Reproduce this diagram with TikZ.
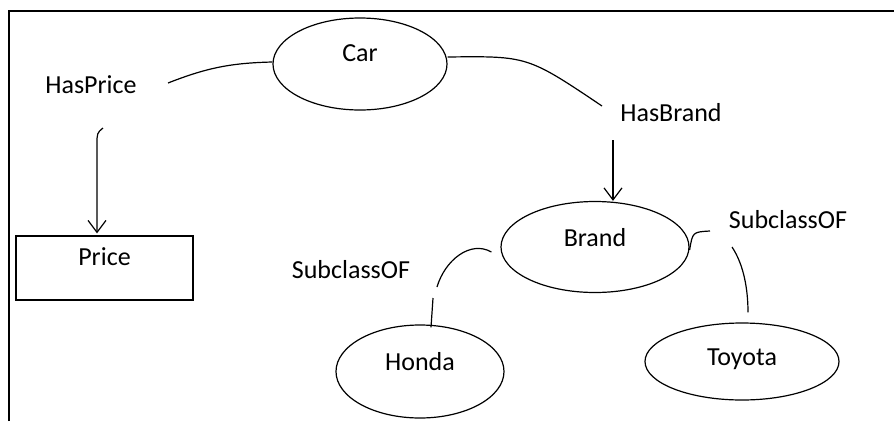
\documentclass[tikz,border=0pt]{standalone}
\usepackage{fontspec}
\setmainfont{Carlito}
\usetikzlibrary{shapes.geometric,arrows.meta,calc}

\begin{document}
\begin{tikzpicture}[x=1pt,y=-1pt,line width=1.2pt,
        every node/.style={font=\fontsize{26}{30}\selectfont},
        cls/.style={ellipse,draw},
        arr/.style={-{Straight Barb[length=12pt,width=18pt]}}]
        \useasboundingbox (0,0) rectangle (894,421);
        \draw[line width=2pt] (9,421) -- (9,11) -- (894,11);
        % classes
        \node[cls,minimum width=174pt,minimum height=92pt,label={[yshift=11pt]center:Car}] (car) at (360,64) {};
        \node[draw,minimum width=177pt,minimum height=64pt,label={[yshift=11pt]center:Price}] (price) at (104.5,268) {};
        \node[cls,minimum width=188pt,minimum height=91pt,label={[yshift=9pt]center:Brand}] (brand) at (595,247) {};
        \node[cls,minimum width=168pt,minimum height=93pt,label={[yshift=9.5pt]center:Honda}] (honda) at (420,371.5) {};
        \node[cls,minimum width=194pt,minimum height=77pt,label={[yshift=2pt]center:Toyota}] (toyota) at (742,361.5) {};
        % relations
        \node (haspr) at (91,85) {HasPrice};
        \node (hasbr) at (671,113) {HasBrand};
        \node (subl) at (351,270) {SubclassOF};
        \node (subr) at (788,220) {SubclassOF};
        \draw ($(haspr)+(77,-2)$) to[bend left=10] ($(car.west)+(0,-2)$);
        \draw[arr] ($(haspr)+(12,43)$) .. controls ($(haspr)+(6,48)$) .. ($(haspr)+(6,60)$) -- ($(price.north)+(-7.5,-2)$);
        \draw ($(car.east)+(0,-7)$) .. controls ($(car.east)+(80,-8)$) .. ($(hasbr)+(-69,-7)$);
        \draw[arr] ($(hasbr)+(-58,27)$) coordinate (hb) -- (hb |- brand.north);
        \draw ($(brand.east)+(0,3)$) .. controls ($(brand.east)+(3,-15)$) .. ($(subr)+(-78,11)$);
        \draw ($(subr)+(-56,27)$) .. controls ($(subr)+(-44,45)$) and ($(subr)+(-40,70)$) .. ($(toyota.north)+(6,-10)$);
        \draw ($(brand.west)+(-9,5)$) .. controls ($(brand.west)+(-30,-7)$) and ($(subl)+(94,-10)$) .. ($(subl)+(86,17)$);
        \draw ($(subl)+(82,28)$) -- ($(honda.north)+(11,3)$);
\end{tikzpicture}
\end{document}
